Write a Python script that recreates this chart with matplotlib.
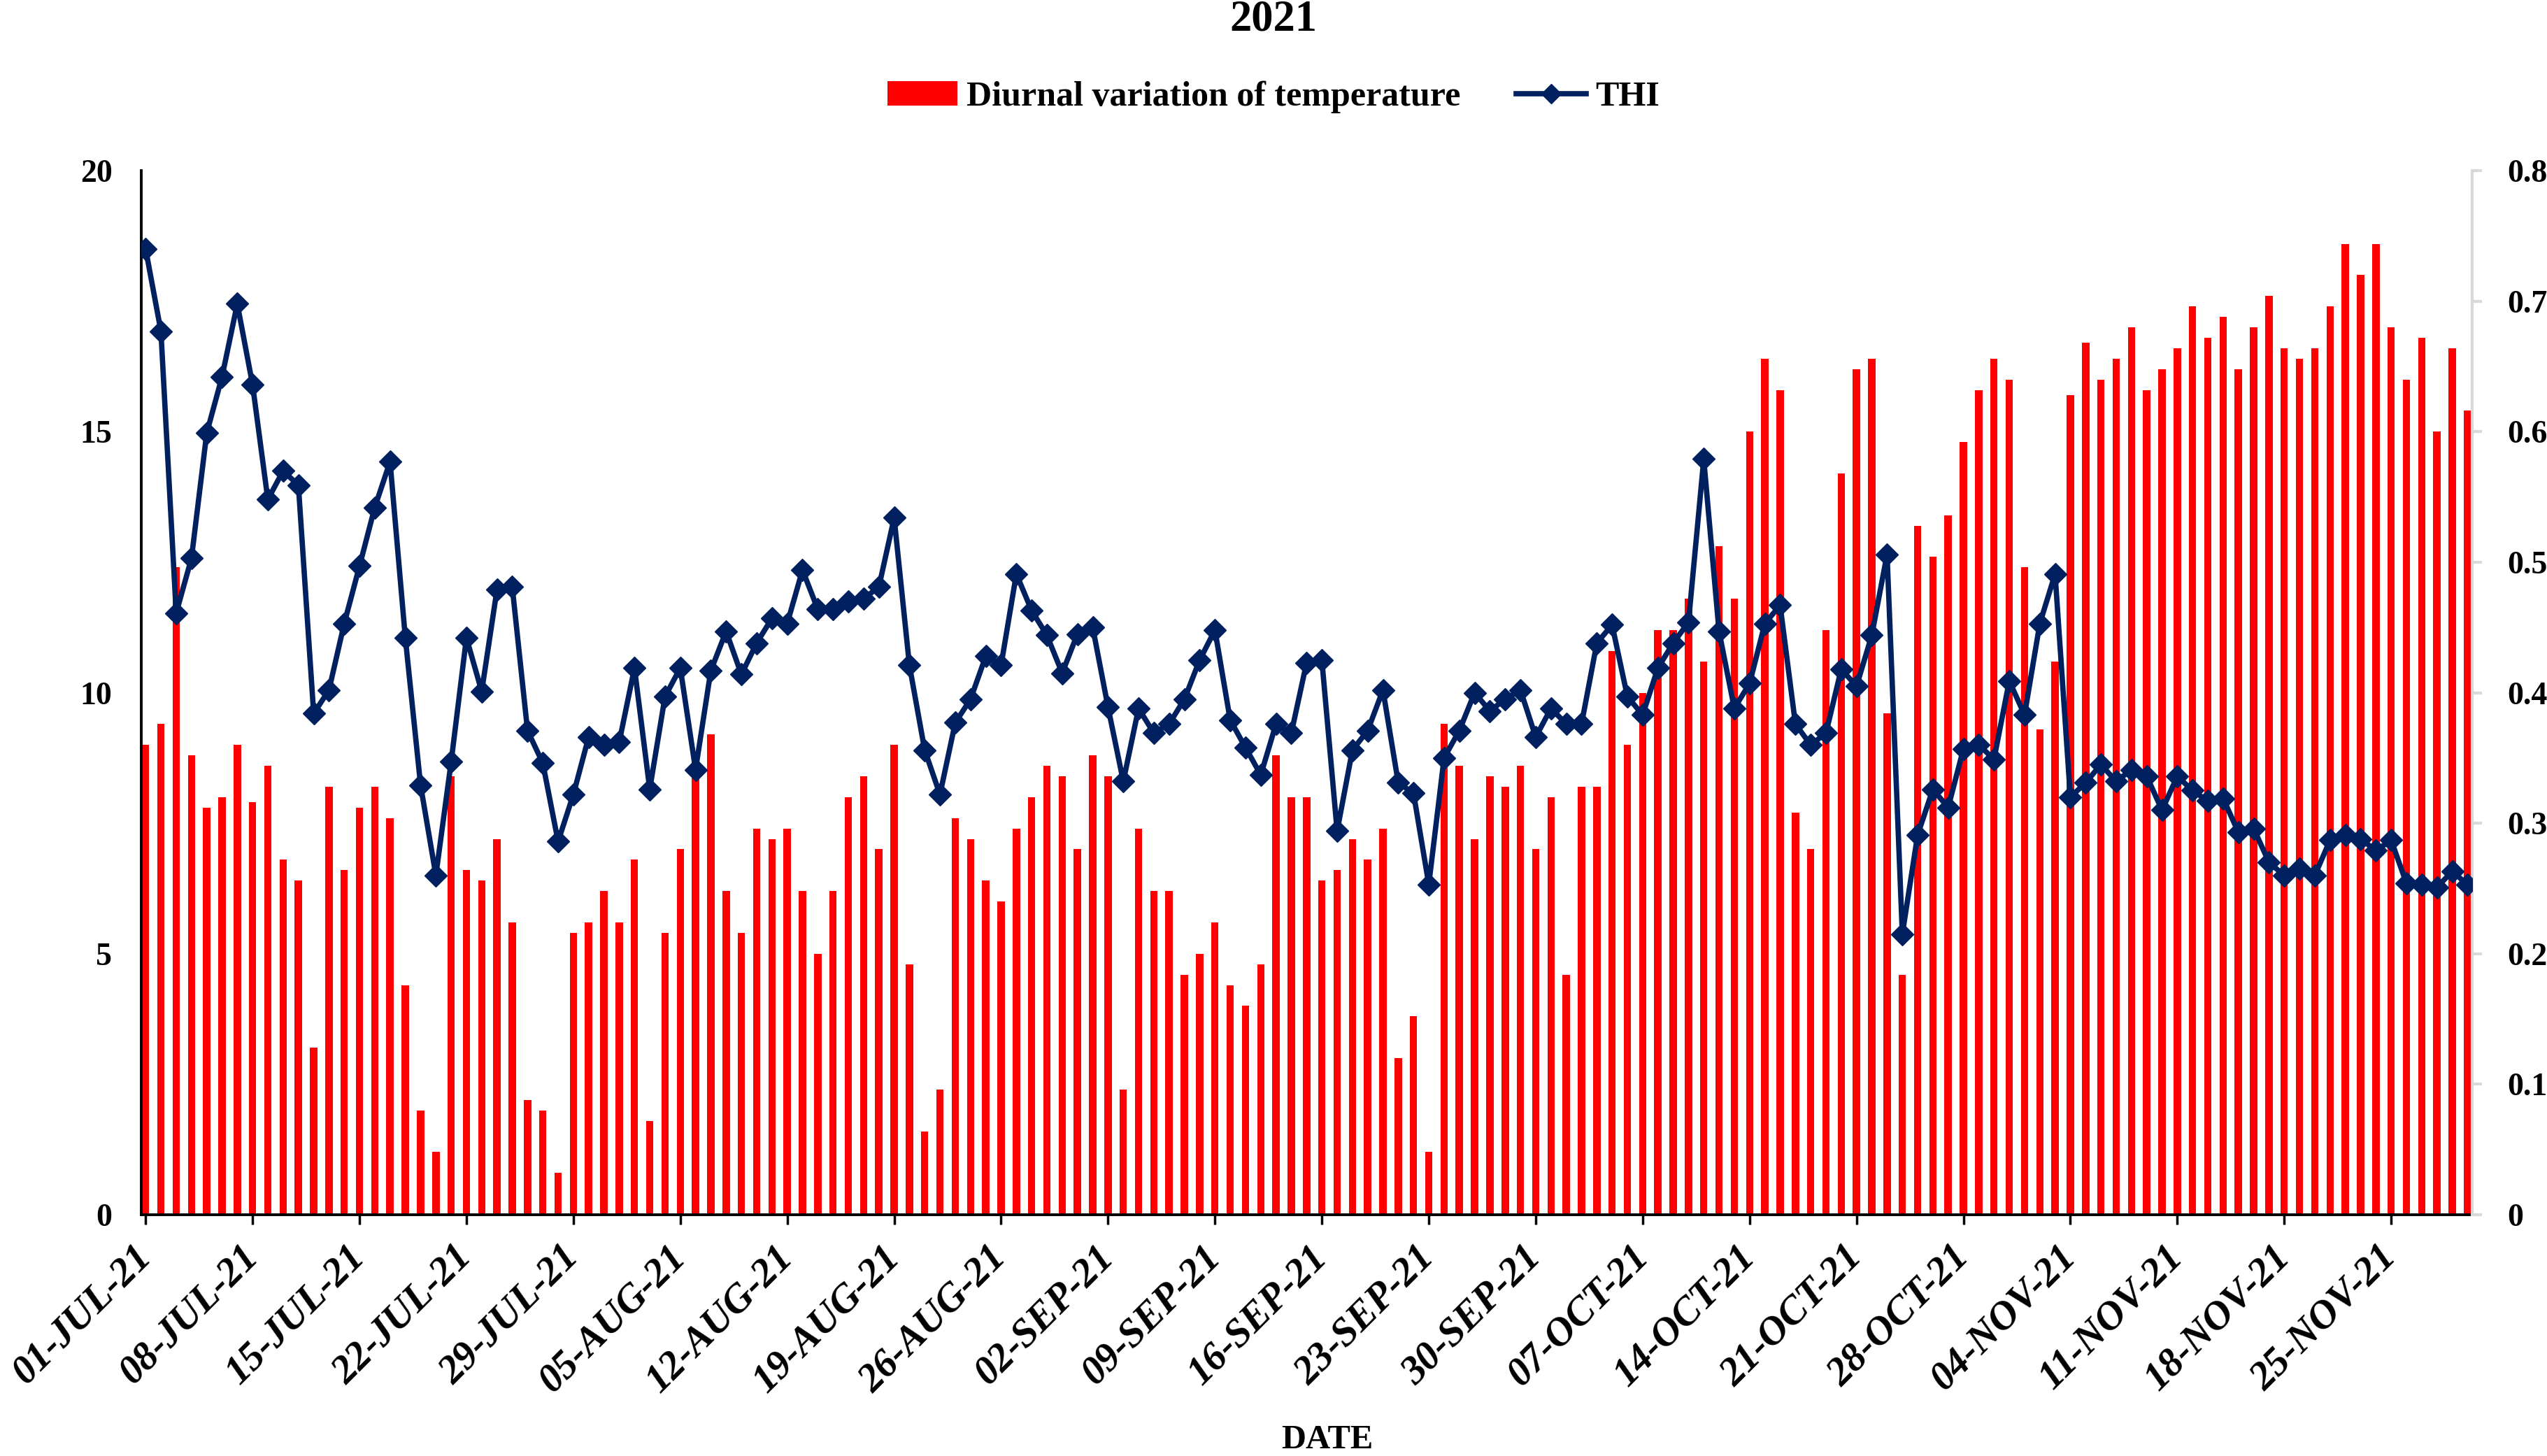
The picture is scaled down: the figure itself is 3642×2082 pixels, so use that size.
import numpy as np
import pandas as pd
import matplotlib
matplotlib.use('Agg')
import matplotlib.pyplot as plt
from matplotlib.patches import Patch
from matplotlib.lines import Line2D

plt.rcParams['font.family'] = 'Liberation Serif'
plt.rcParams['font.weight'] = 'bold'

# Daily dates, 01-Jul-2021 .. 30-Nov-2021
dates = pd.date_range('2021-07-01', '2021-11-30', freq='D')

# Diurnal variation of temperature (left axis)
diurnal = [
    9.0, 9.4, 12.4, 8.8, 7.8, 8.0, 9.0, 7.9, 8.6, 6.8,
    6.4, 3.2, 8.2, 6.6, 7.8, 8.2, 7.6, 4.4, 2.0, 1.2,
    8.4, 6.6, 6.4, 7.2, 5.6, 2.2, 2.0, 0.8, 5.4, 5.6,
    6.2, 5.6, 6.8, 1.8, 5.4, 7.0, 8.6, 9.2, 6.2, 5.4,
    7.4, 7.2, 7.4, 6.2, 5.0, 6.2, 8.0, 8.4, 7.0, 9.0,
    4.8, 1.6, 2.4, 7.6, 7.2, 6.4, 6.0, 7.4, 8.0, 8.6,
    8.4, 7.0, 8.8, 8.4, 2.4, 7.4, 6.2, 6.2, 4.6, 5.0,
    5.6, 4.4, 4.0, 4.8, 8.8, 8.0, 8.0, 6.4, 6.6, 7.2,
    6.8, 7.4, 3.0, 3.8, 1.2, 9.4, 8.6, 7.2, 8.4, 8.2,
    8.6, 7.0, 8.0, 4.6, 8.2, 8.2, 10.8, 9.0, 10.0, 11.2,
    11.2, 11.8, 10.6, 12.8, 11.8, 15.0, 16.4, 15.8, 7.7, 7.0,
    11.2, 14.2, 16.2, 16.4, 9.6, 4.6, 13.2, 12.6, 13.4, 14.8,
    15.8, 16.4, 16.0, 12.4, 9.3, 10.6, 15.7, 16.7, 16.0, 16.4,
    17.0, 15.8, 16.2, 16.6, 17.4, 16.8, 17.2, 16.2, 17.0, 17.6,
    16.6, 16.4, 16.6, 17.4, 18.6, 18.0, 18.6, 17.0, 16.0, 16.8,
    15.0, 16.6, 15.4,
]

# THI (right axis)
thi = [
    0.740, 0.677, 0.461, 0.503, 0.599, 0.642, 0.698, 0.636, 0.548, 0.570,
    0.559, 0.384, 0.402, 0.453, 0.497, 0.542, 0.577, 0.442, 0.329, 0.260,
    0.347, 0.442, 0.401, 0.479, 0.481, 0.371, 0.346, 0.286, 0.322, 0.366,
    0.360, 0.362, 0.419, 0.326, 0.397, 0.419, 0.341, 0.417, 0.447, 0.414,
    0.438, 0.457, 0.453, 0.494, 0.464, 0.464, 0.470, 0.472, 0.481, 0.534,
    0.421, 0.356, 0.322, 0.377, 0.395, 0.428, 0.421, 0.491, 0.463, 0.444,
    0.415, 0.445, 0.450, 0.389, 0.332, 0.388, 0.369, 0.376, 0.395, 0.425,
    0.448, 0.379, 0.358, 0.337, 0.376, 0.369, 0.423, 0.425, 0.294, 0.356,
    0.371, 0.402, 0.331, 0.323, 0.253, 0.350, 0.371, 0.400, 0.386, 0.395,
    0.402, 0.366, 0.388, 0.376, 0.376, 0.438, 0.452, 0.397, 0.383, 0.419,
    0.438, 0.454, 0.579, 0.447, 0.388, 0.407, 0.453, 0.467, 0.376, 0.360,
    0.369, 0.418, 0.405, 0.444, 0.506, 0.215, 0.291, 0.326, 0.312, 0.357,
    0.360, 0.349, 0.409, 0.383, 0.453, 0.491, 0.320, 0.331, 0.345, 0.332,
    0.341, 0.336, 0.310, 0.336, 0.325, 0.317, 0.319, 0.293, 0.296, 0.270,
    0.260, 0.265, 0.260, 0.287, 0.291, 0.288, 0.279, 0.287, 0.254, 0.253,
    0.251, 0.263, 0.253,
]

x = np.arange(len(dates))
tick_idx = x[::7]
tick_labels = [d.strftime('%d-%b-%y').upper() for d in dates[::7]]

fig = plt.figure(figsize=(36.42, 20.82), dpi=100)
ax = fig.add_axes([0.0555, 0.1657, 0.9151, 0.7171])

ax.bar(x, diurnal, width=0.48, color='#ff0000', zorder=2)
ax.set_xlim(-0.28, 152.3)
ax.set_ylim(0, 20)
ax.set_yticks([0, 5, 10, 15, 20])
ax.tick_params(axis='y', length=0, pad=30, labelsize=33)

ax.set_xticks(tick_idx)
ax.set_xticklabels(tick_labels, rotation=45, ha='right', va='center',
                   rotation_mode='anchor', fontsize=41, fontstyle='italic',
                   fontweight='bold')
ax.tick_params(axis='x', direction='out', length=10, width=2.5, pad=28)

for side in ['top', 'right']:
    ax.spines[side].set_visible(False)
ax.spines['left'].set_linewidth(2.8)
ax.spines['bottom'].set_linewidth(2.8)

ax2 = ax.twinx()
ax2.plot(x, thi, color='#002060', linewidth=5.5, marker='D', markersize=16,
         zorder=3)
ax2.set_ylim(0, 0.8)
ax2.set_yticks(np.arange(0, 0.81, 0.1))
ax2.set_yticklabels(['0', '0.1', '0.2', '0.3', '0.4', '0.5', '0.6', '0.7', '0.8'])
ax2.tick_params(axis='y', direction='out', length=10, width=3, color='#d9d9d9',
                pad=26, labelsize=33)
for side in ['top', 'left', 'bottom']:
    ax2.spines[side].set_visible(False)
ax2.spines['right'].set_color('#d9d9d9')
ax2.spines['right'].set_linewidth(3)

fig.text(0.5, 1 - 28 / 2082, '2021', ha='center', va='center',
         fontsize=45, fontweight='bold')
fig.text(0.521, 0.011, 'DATE', ha='center', va='center',
         fontsize=35, fontweight='bold')

handles = [Patch(facecolor='#ff0000', edgecolor='none'),
           Line2D([], [], color='#002060', linewidth=5.5, marker='D', markersize=14)]
fig.legend(handles, ['Diurnal variation of temperature', 'THI'],
           loc='center', bbox_to_anchor=(0.5, 1 - 139 / 2082), ncol=2,
           frameon=False, fontsize=36, handlelength=2.0, handletextpad=0.25,
           columnspacing=1.6)

fig.savefig('out.png', dpi=100)
